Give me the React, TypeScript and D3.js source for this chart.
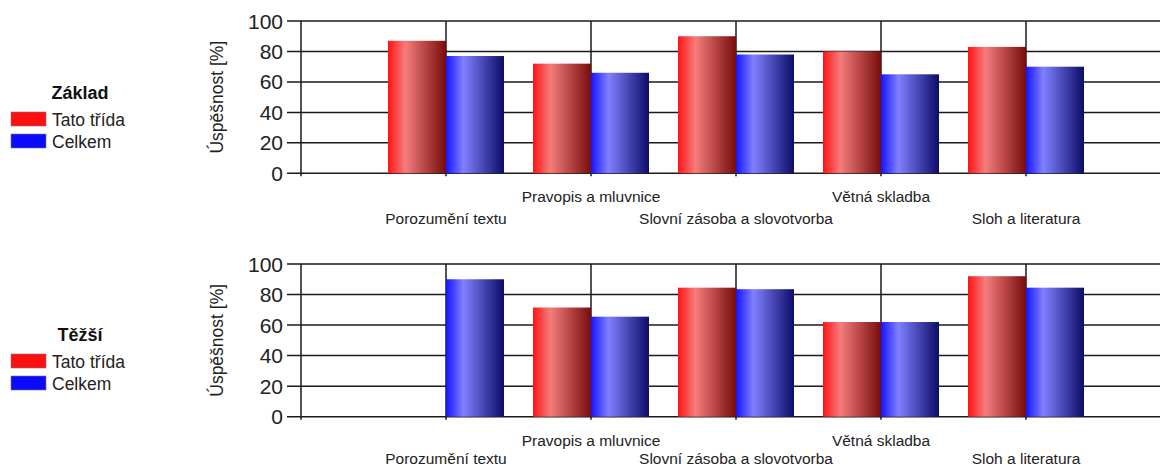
import React from "react";
import * as d3 from "d3";

const categories = [
  "Porozumění textu",
  "Pravopis a mluvnice",
  "Slovní zásoba a slovotvorba",
  "Větná skladba",
  "Sloh a literatura",
];
const seriesNames = ["Tato třída", "Celkem"];
const zakladTrida: (number | null)[] = [87, 72, 90, 80, 83];
const zakladCelkem: (number | null)[] = [77, 66, 78, 65, 70];
const tezsiTrida: (number | null)[] = [null, 71.5, 84.5, 62, 92];
const tezsiCelkem: (number | null)[] = [90, 65.5, 83.5, 62, 84.5];
const yTicks = [0, 20, 40, 60, 80, 100];
const yTitle = "Úspěšnost [%]";

const W = 1160;
const H = 468;
const lineColor = "#1a1a1a";

type PanelProps = {
  title: string;
  red: (number | null)[];
  blue: (number | null)[];
  top: number;
  bottom: number;
  legendTitleY: number;
  row2: number;
};

function Panel({ title, red, blue, top, bottom, legendTitleY, row2 }: PanelProps) {
  const x = d3.scaleLinear().domain([0, categories.length + 1]).range([301, 1171]);
  const y = d3.scaleLinear().domain([0, 100]).range([bottom, top]);
  const unit = x(1) - x(0);
  const barW = unit * 0.4;
  const series = [
    { values: red, grad: "url(#gradRed)", offset: -1 },
    { values: blue, grad: "url(#gradBlue)", offset: 0 },
  ];
  return (
    <g>
      {/* legend */}
      <text x={80} y={legendTitleY} textAnchor="middle" dominantBaseline="central"
        fontFamily="Liberation Sans, Arial, sans-serif" fontWeight="bold" fontSize={18} fill="#111">
        {title}
      </text>
      {seriesNames.map((n, i) => (
        <g key={n} transform={`translate(11, ${legendTitleY + 19 + i * 22})`}>
          <rect x={0} y={0} width={35} height={14} fill={i === 0 ? "#ff1010" : "#0a0aff"} stroke="#777" strokeWidth={0.6} />
          <text x={41} y={7.5} dominantBaseline="central" fontFamily="Liberation Sans, Arial, sans-serif"
            fontSize={17.5} fill="#222">
            {n}
          </text>
        </g>
      ))}
      {/* y title */}
      <text transform={`translate(217, ${(top + bottom) / 2}) rotate(-90)`} textAnchor="middle"
        dominantBaseline="central" fontFamily="Liberation Sans, Arial, sans-serif" fontSize={17.5} fill="#222">
        {yTitle}
      </text>
      {/* horizontal gridlines + ticks */}
      {yTicks.map((t) => (
        <g key={t}>
          <line x1={287} x2={W} y1={y(t)} y2={y(t)} stroke={lineColor} strokeWidth={1.5} />
          <text x={283} y={y(t)} textAnchor="end" dominantBaseline="central"
            fontFamily="Liberation Sans Narrow, Arial Narrow, sans-serif" fontSize={21} fill="#222">
            {t}
          </text>
        </g>
      ))}
      {/* vertical gridlines */}
      {d3.range(0, categories.length + 1).map((i) => (
        <line key={i} x1={x(i)} x2={x(i)} y1={y(100)} y2={y(0) + 3} stroke={lineColor} strokeWidth={1.5} />
      ))}
      {/* bars */}
      {series.map((s, si) =>
        s.values.map((v, ci) =>
          v == null ? null : (
            <rect key={`${si}-${ci}`} x={x(ci + 1) + s.offset * barW} width={barW}
              y={y(v)} height={y(0) - y(v)} fill={s.grad} />
          )
        )
      )}
      {/* category labels */}
      {categories.map((c, i) => (
        <text key={c} x={x(i + 1)} y={y(0) + (i % 2 === 1 ? 23.5 : row2)} textAnchor="middle"
          dominantBaseline="central" fontFamily="Liberation Sans, Arial, sans-serif" fontSize={15.5} fill="#222">
          {c}
        </text>
      ))}
    </g>
  );
}

export default function App() {
  return (
    <svg width={W} height={H} style={{ position: "absolute", left: 0, top: 0, background: "#fff" }}>
      <defs>
        <linearGradient id="gradRed" x1="0" x2="1" y1="0" y2="0">
          <stop offset="0%" stopColor="#ff1414" />
          <stop offset="30%" stopColor="#f47c7c" />
          <stop offset="100%" stopColor="#780c0c" />
        </linearGradient>
        <linearGradient id="gradBlue" x1="0" x2="1" y1="0" y2="0">
          <stop offset="0%" stopColor="#1414ff" />
          <stop offset="30%" stopColor="#8080ff" />
          <stop offset="100%" stopColor="#0c0c68" />
        </linearGradient>
      </defs>
      <rect width={W} height={H} fill="#fff" />
      <Panel title="Základ" red={zakladTrida} blue={zakladCelkem} top={21} bottom={173.3} legendTitleY={93} row2={45.5} />
      <Panel title="Těžší" red={tezsiTrida} blue={tezsiCelkem} top={264} bottom={416.7} legendTitleY={335} row2={41.5} />
    </svg>
  );
}
